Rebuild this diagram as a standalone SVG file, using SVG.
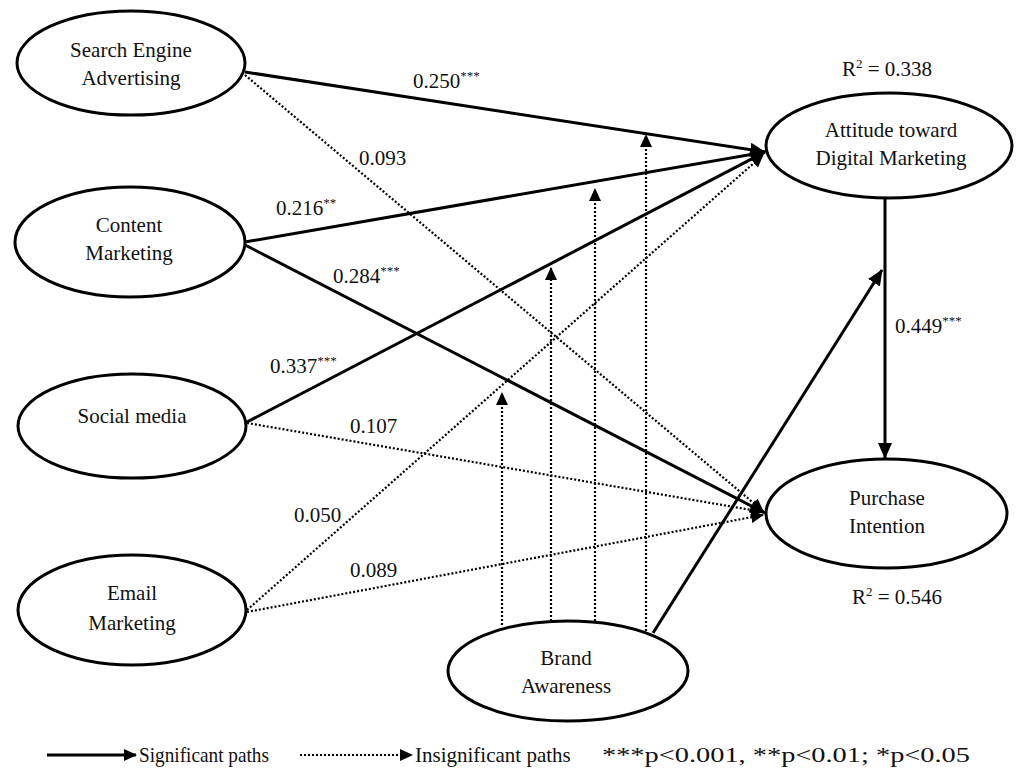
<svg xmlns="http://www.w3.org/2000/svg" width="1017" height="774" viewBox="0 0 1017 774">
<style>
text{font-family:"Liberation Serif","Times New Roman",serif;font-size:21px;fill:#111}
.node ellipse{fill:#fff;stroke:#000;stroke-width:3}
.lbl{text-anchor:middle}
.s{fill:none;stroke:#000;stroke-width:3}
.d{fill:none;stroke:#000;stroke-width:2.2;stroke-dasharray:2 2}
.sup{font-size:13px}
</style>
<defs>
<marker id="ah" markerUnits="userSpaceOnUse" markerWidth="16" markerHeight="14" refX="15" refY="7" orient="auto"><path d="M0,0 L16,7 L0,14 z" fill="#000"/></marker>
<marker id="ahs" markerUnits="userSpaceOnUse" markerWidth="13" markerHeight="12" refX="12" refY="6" orient="auto"><path d="M0,0 L13,6 L0,12 z" fill="#000"/></marker>
</defs>
<g id="connectors">
<line class="d" x1="245" y1="75" x2="763" y2="511" marker-end="url(#ahs)"/>
<line class="d" x1="247" y1="423" x2="763" y2="512" marker-end="url(#ahs)"/>
<line class="d" x1="247" y1="610" x2="763" y2="155" marker-end="url(#ahs)"/>
<line class="d" x1="247" y1="612" x2="763" y2="515" marker-end="url(#ahs)"/>
<line class="d" x1="502" y1="625" x2="502" y2="393" marker-end="url(#ahs)"/>
<line class="d" x1="551" y1="621" x2="551" y2="268" marker-end="url(#ahs)"/>
<line class="d" x1="595" y1="621" x2="595" y2="189" marker-end="url(#ahs)"/>
<line class="d" x1="646" y1="631" x2="646" y2="135" marker-end="url(#ahs)"/>
<line class="s" x1="245" y1="72" x2="765" y2="152" marker-end="url(#ah)"/>
<line class="s" x1="245" y1="242" x2="765" y2="152" marker-end="url(#ah)"/>
<line class="s" x1="245" y1="245" x2="765" y2="513" marker-end="url(#ah)"/>
<line class="s" x1="247" y1="422" x2="765" y2="152" marker-end="url(#ah)"/>
<line class="s" x1="885" y1="198" x2="885" y2="458" marker-end="url(#ah)"/>
<line class="s" x1="653" y1="633" x2="882" y2="270" marker-end="url(#ah)"/>
</g>
<g id="edge-labels">
<text x="413" y="88">0.250<tspan class="sup" dy="-8">***</tspan></text>
<text x="359" y="165">0.093</text>
<text x="276" y="215">0.216<tspan class="sup" dy="-8">**</tspan></text>
<text x="333" y="283">0.284<tspan class="sup" dy="-8">***</tspan></text>
<text x="270" y="373">0.337<tspan class="sup" dy="-8">***</tspan></text>
<text x="350" y="433">0.107</text>
<text x="294" y="522">0.050</text>
<text x="350" y="577">0.089</text>
<text x="895" y="333">0.449<tspan class="sup" dy="-8">***</tspan></text>
<text class="lbl" x="887" y="76">R<tspan class="sup" dy="-8">2</tspan><tspan dy="8"> = 0.338</tspan></text>
<text class="lbl" x="897" y="604">R<tspan class="sup" dy="-8">2</tspan><tspan dy="8"> = 0.546</tspan></text>
</g>
<g id="node-sea" class="node"><ellipse cx="131" cy="63" rx="114" ry="52"/><text class="lbl" x="131" y="57">Search Engine</text><text class="lbl" x="131" y="85">Advertising</text></g>
<g id="node-cm" class="node"><ellipse cx="130" cy="242" rx="115" ry="55"/><text class="lbl" x="129" y="232">Content</text><text class="lbl" x="129" y="260">Marketing</text></g>
<g id="node-sm" class="node"><ellipse cx="132" cy="426" rx="114" ry="52"/><text class="lbl" x="132" y="423">Social media</text></g>
<g id="node-em" class="node"><ellipse cx="132" cy="610" rx="114" ry="55"/><text class="lbl" x="132" y="600">Email</text><text class="lbl" x="132" y="630">Marketing</text></g>
<g id="node-att" class="node"><ellipse cx="889" cy="145.5" rx="123" ry="52.5"/><text class="lbl" x="891" y="137">Attitude toward</text><text class="lbl" x="891" y="165">Digital Marketing</text></g>
<g id="node-pi" class="node"><ellipse cx="886.5" cy="513.5" rx="120.5" ry="54.5"/><text class="lbl" x="887" y="505">Purchase</text><text class="lbl" x="887" y="533">Intention</text></g>
<g id="node-ba" class="node"><ellipse cx="568" cy="671" rx="120" ry="50"/><text class="lbl" x="566" y="665">Brand</text><text class="lbl" x="566" y="693">Awareness</text></g>
<g id="legend">
<line class="s" x1="47" y1="755" x2="136" y2="755" marker-end="url(#ahs)"/>
<text x="139" y="762" textLength="130" lengthAdjust="spacingAndGlyphs">Significant paths</text>
<line class="d" x1="300" y1="755" x2="412" y2="755" marker-end="url(#ahs)"/>
<text x="415" y="762">Insignificant paths</text>
<text x="602" y="762" font-size="22.5" textLength="368" lengthAdjust="spacingAndGlyphs">***p&lt;0.001, **p&lt;0.01; *p&lt;0.05</text>
</g>
</svg>
